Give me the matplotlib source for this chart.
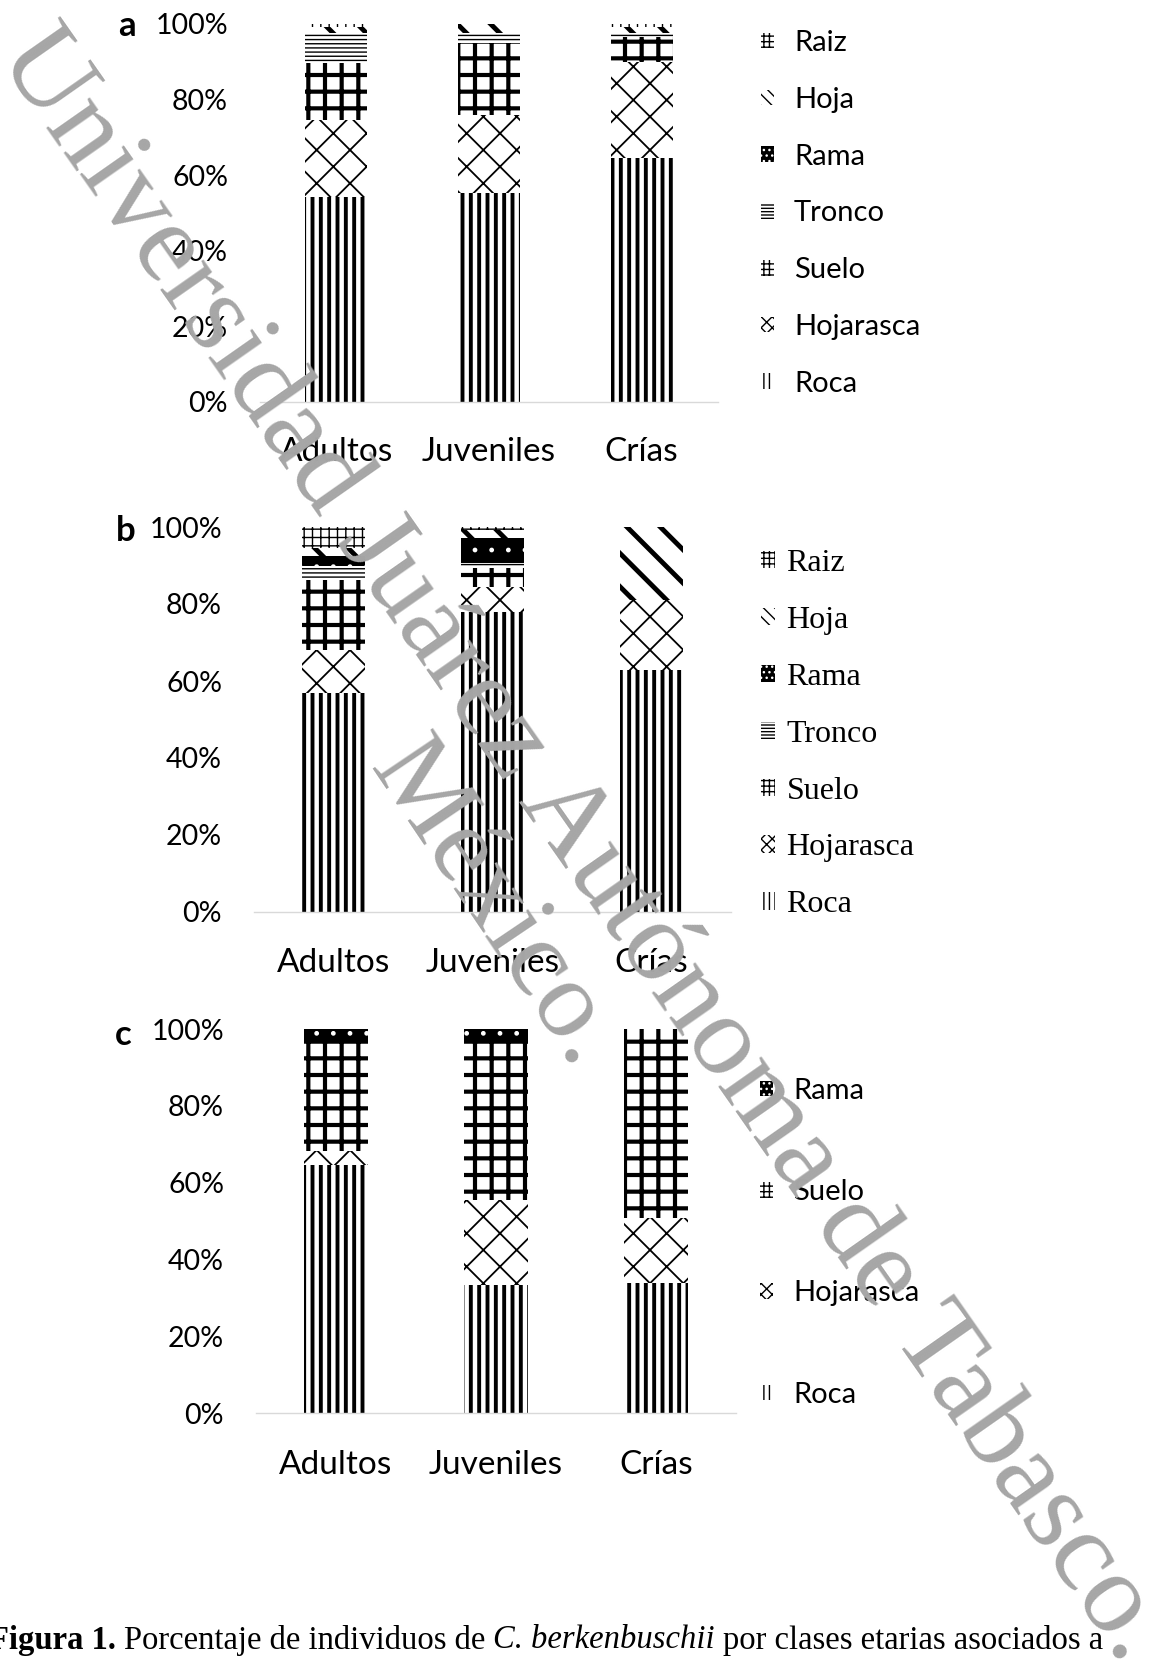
import matplotlib
matplotlib.use('Agg')
import matplotlib as mpl
import matplotlib.pyplot as plt
from matplotlib.patches import Patch

W, H, DPI = 1160, 1680, 100

# ---------------- data ----------------
age_classes = ['Adultos', 'Juveniles', 'Crías']
y_ticks = [0, 20, 40, 60, 80, 100]
y_tick_labels = ['0%', '20%', '40%', '60%', '80%', '100%']

substrates_ab = ['Roca', 'Hojarasca', 'Suelo', 'Tronco', 'Rama', 'Hoja', 'Raiz']
substrates_c = ['Roca', 'Hojarasca', 'Suelo', 'Rama']

# panel a (%)
roca_a = [54.3, 55.2, 64.5]
hojarasca_a = [20.3, 20.7, 25.5]
suelo_a = [15.2, 19.0, 6.5]
tronco_a = [7.8, 2.6, 1.0]
rama_a = [0.0, 0.0, 0.0]
hoja_a = [1.6, 2.5, 1.8]
raiz_a = [0.8, 0.0, 0.7]

# panel b (%)
roca_b = [56.8, 78.0, 62.9]
hojarasca_b = [11.3, 6.5, 18.1]
suelo_b = [18.2, 4.8, 0.0]
tronco_b = [3.5, 1.3, 0.0]
rama_b = [2.6, 6.5, 0.0]
hoja_b = [2.2, 2.2, 19.0]
raiz_b = [5.4, 0.7, 0.0]

# panel c (%)
roca_c = [64.6, 33.3, 33.8]
hojarasca_c = [3.5, 22.1, 16.9]
suelo_c = [28.4, 41.1, 49.3]
rama_c = [3.5, 3.5, 0.0]

# ---------------- styles ----------------
STYLE = {
    'Roca':      dict(face='white', hc='black', hatch='||',   hlw=2.8),
    'Hojarasca': dict(face='white', hc='black', hatch='x',    hlw=1.3),
    'Suelo':     dict(face='white', hc='black', hatch='+',    hlw=3.0),
    'Tronco':    dict(face='white', hc='black', hatch='----', hlw=1.0),
    'Rama':      dict(face='black', hc='white', hatch='.',    hlw=1.0),
    'Hoja':      dict(face='white', hc='black', hatch='\\',   hlw=3.5),
    'Raiz':      dict(face='white', hc='black', hatch='++',   hlw=1.0),
}
# denser versions for the tiny legend swatches
LEG_STYLE = {
    'Roca':      dict(face='white', hc='black', hatch='|||',  hlw=2.5),
    'Hojarasca': dict(face='white', hc='black', hatch='xxx',  hlw=0.9),
    'Suelo':     dict(face='white', hc='black', hatch='+++',  hlw=1.6),
    'Tronco':    dict(face='white', hc='black', hatch='-----', hlw=1.0),
    'Rama':      dict(face='black', hc='white', hatch='...',  hlw=1.0),
    'Hoja':      dict(face='white', hc='black', hatch='\\\\\\', hlw=2.0),
    'Raiz':      dict(face='white', hc='black', hatch='+++',  hlw=0.8),
}

SANS = ['Lato', 'DejaVu Sans']
SERIF = ['Liberation Serif', 'DejaVu Serif']

fig = plt.figure(figsize=(W / DPI, H / DPI), dpi=DPI)


def px_rect(x0, x1, ytop, ybot):
    return [x0 / W, 1 - ybot / H, (x1 - x0) / W, (ybot - ytop) / H]


def make_patch(st, **kw):
    with mpl.rc_context({'hatch.linewidth': st['hlw']}):
        p = Patch(facecolor=st['face'], edgecolor=st['hc'], linewidth=0,
                  hatch=st['hatch'], **kw)
    if hasattr(p, 'set_hatch_linewidth'):
        p.set_hatch_linewidth(st['hlw'])
    return p


def draw_panel(rect, names, series, width, leg_anchor, leg_family, leg_size,
               leg_spacing, leg_textpad, xpad):
    ax = fig.add_axes(rect)
    xs = list(range(len(age_classes)))
    bottom = [0.0] * len(xs)
    for name, vals in zip(names, series):
        st = STYLE[name]
        with mpl.rc_context({'hatch.linewidth': st['hlw']}):
            bars = ax.bar(xs, vals, width, bottom=bottom, color=st['face'],
                          edgecolor=st['hc'], linewidth=0, hatch=st['hatch'],
                          label=name)
        for p in bars:
            if hasattr(p, 'set_hatch_linewidth'):
                p.set_hatch_linewidth(st['hlw'])
        bottom = [b + v for b, v in zip(bottom, vals)]
    ax.set_xlim(-0.5, len(xs) - 0.5)
    ax.set_ylim(0, 100)
    ax.set_yticks(y_ticks)
    ax.set_yticklabels(y_tick_labels, family=SANS, fontsize=20.5)
    ax.set_xticks(xs)
    ax.set_xticklabels(age_classes, family=SANS, fontsize=24)
    ax.tick_params(axis='y', length=0, pad=23)
    ax.tick_params(axis='x', length=0, pad=xpad)
    for s in ['top', 'right', 'left']:
        ax.spines[s].set_visible(False)
    ax.spines['bottom'].set_color('#d9d9d9')
    ax.spines['bottom'].set_linewidth(1.0)
    proxies = [make_patch(LEG_STYLE[n]) for n in names[::-1]]
    ax.legend(proxies, names[::-1], loc='upper left',
              bbox_to_anchor=leg_anchor, bbox_transform=fig.transFigure,
              frameon=False, handlelength=0.45, handleheight=0.45,
              handletextpad=leg_textpad, labelspacing=leg_spacing,
              borderpad=0, borderaxespad=0,
              prop=dict(family=leg_family, size=leg_size))
    return ax


draw_panel(px_rect(260, 718, 24, 402), substrates_ab,
           [roca_a, hojarasca_a, suelo_a, tronco_a, rama_a, hoja_a, raiz_a],
           0.406, (761 / W, 1 - 30 / H), SANS, 21, 1.055, 0.68, 25)
draw_panel(px_rect(254, 731, 527, 912), substrates_ab,
           [roca_b, hojarasca_b, suelo_b, tronco_b, rama_b, hoja_b, raiz_b],
           0.396, (761 / W, 1 - 549 / H), SERIF, 23, 0.873, 0.35, 26)
draw_panel(px_rect(256, 736, 1029, 1413), substrates_c,
           [roca_c, hojarasca_c, suelo_c, rama_c],
           0.40, (760 / W, 1 - 1078 / H), SANS, 21, 2.58, 0.68, 27)

# panel letters
for letter, (lx, ly) in zip(['a', 'b', 'c'], [(127, 26), (126, 531), (123, 1035)]):
    fig.text(lx / W, 1 - ly / H, letter, ha='center', va='center',
             fontsize=25, fontweight='bold', family=SANS)

# caption
fig.canvas.draw()
rend = fig.canvas.get_renderer()
cap_parts = [
    ('Figura 1.', dict(fontweight='bold')),
    ('Porcentaje de individuos de', dict()),
    ('C. berkenbuschii', dict(style='italic')),
    ('por clases etarias asociados a', dict()),
]
cx = -11
cy = 1 - 1640 / H
for txt, kw in cap_parts:
    t = fig.text(cx / W, cy, txt, ha='left', va='center', fontsize=23.5,
                 family=SERIF, **kw)
    bb = t.get_window_extent(renderer=rend)
    cx = bb.x1 + 8

# watermark
fig.text(583 / W, 1 - 845 / H, 'Universidad Juárez Autónoma de Tabasco.',
         ha='center', va='center', rotation=-55, rotation_mode='anchor',
         fontsize=83, family=SERIF, color='#a6a6a6', zorder=10)
fig.text(493 / W, 1 - 905 / H, 'México.',
         ha='center', va='center', rotation=-56, rotation_mode='anchor',
         fontsize=80, family=SERIF, color='#a6a6a6', zorder=10)

fig.savefig('out.png', dpi=DPI)
